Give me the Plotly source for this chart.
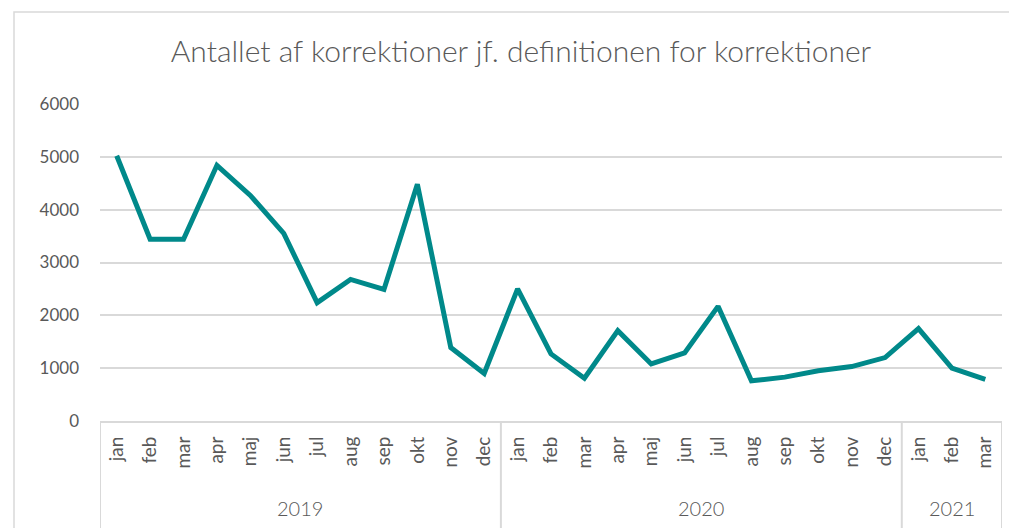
import plotly.graph_objects as go

months_2019 = ["jan", "feb", "mar", "apr", "maj", "jun", "jul", "aug", "sep", "okt", "nov", "dec"]
months_2020 = ["jan", "feb", "mar", "apr", "maj", "jun", "jul", "aug", "sep", "okt", "nov", "dec"]
months_2021 = ["jan", "feb", "mar"]
years = ["2019", "2020", "2021"]

values_2019 = [5020, 3440, 3440, 4840, 4270, 3550, 2240, 2680, 2490, 4480, 1390, 900]
values_2020 = [2500, 1270, 810, 1710, 1080, 1290, 2170, 760, 830, 950, 1030, 1200]
values_2021 = [1750, 1000, 790]

title_text = "Antallet af korrektioner jf. definitionen for korrektioner"
y_ticks = [0, 1000, 2000, 3000, 4000, 5000, 6000]

groups = [(years[0], months_2019, values_2019),
          (years[1], months_2020, values_2020),
          (years[2], months_2021, values_2021)]

month_labels = []
values = []
for _, m, v in groups:
    month_labels += m
    values += v
x_idx = list(range(len(values)))

# figure geometry (page body has an 8px margin)
W, H = 1009, 520
L, R, T, B = 92, 15, 96, 107
PW, PH = W - L - R, H - T - B

def fy_to_paper(fy):
    return (H - B - fy) / PH

def fx_to_paper(fx):
    return (fx - L) / PW

GRID = "#d9d9d9"
TXT = "#595959"
FONT = "Lato, Carlito, sans-serif"

fig = go.Figure()
fig.add_trace(go.Scatter(
    x=x_idx, y=values, mode="lines",
    line=dict(color="#00898A", width=5),
    hoverinfo="skip",
))

fig.update_layout(
    width=W, height=H,
    margin=dict(l=L, r=R, t=T, b=B),
    paper_bgcolor="white", plot_bgcolor="white",
    showlegend=False,
    font=dict(family=FONT, color=TXT, size=16),
    title=dict(text=title_text, x=513 / W, xref="container", xanchor="center",
               y=1 - 43 / H, yref="container", yanchor="middle",
               font=dict(size=30, color=TXT, family=FONT, weight=300)),
)

fig.update_yaxes(
    range=[0, 6000], tickvals=y_ticks, showgrid=True, gridcolor=GRID, gridwidth=1.5,
    zeroline=False, showline=False, ticks="", tickfont=dict(size=17, color=TXT),
    ticklabelstandoff=20,
)
fig.update_xaxes(
    range=[-0.5, len(values) - 0.5], tickmode="array", tickvals=x_idx, ticktext=month_labels,
    showline=True, linecolor=GRID, linewidth=2, showgrid=False, zeroline=False,
    ticks="", tickangle=-90, tickfont=dict(size=19, color=TXT), ticklabelstandoff=6,
)

# dividers and year labels
start = 0
bottom_paper = fy_to_paper(H + 5)
divs = [-0.5]
for yr, m, _ in groups:
    end = start + len(m)
    divs.append(end - 0.5)
    fig.add_annotation(x=(start + end - 1) / 2, y=fy_to_paper(500), xref="x", yref="paper",
                       text=yr, showarrow=False, xanchor="center", yanchor="middle",
                       font=dict(size=20, color=TXT, family=FONT, weight=300))
    start = end
for d in divs:
    fig.add_shape(type="line", xref="x", yref="paper", x0=d, x1=d, y0=0, y1=bottom_paper,
                  line=dict(color=GRID, width=2))

# outer chart border
fig.add_shape(type="rect", xref="paper", yref="paper",
              x0=fx_to_paper(6), x1=fx_to_paper(1002),
              y0=fy_to_paper(H + 10), y1=fy_to_paper(4),
              line=dict(color=GRID, width=1.5), fillcolor="rgba(0,0,0,0)", layer="below")

fig.write_html("out.html")
